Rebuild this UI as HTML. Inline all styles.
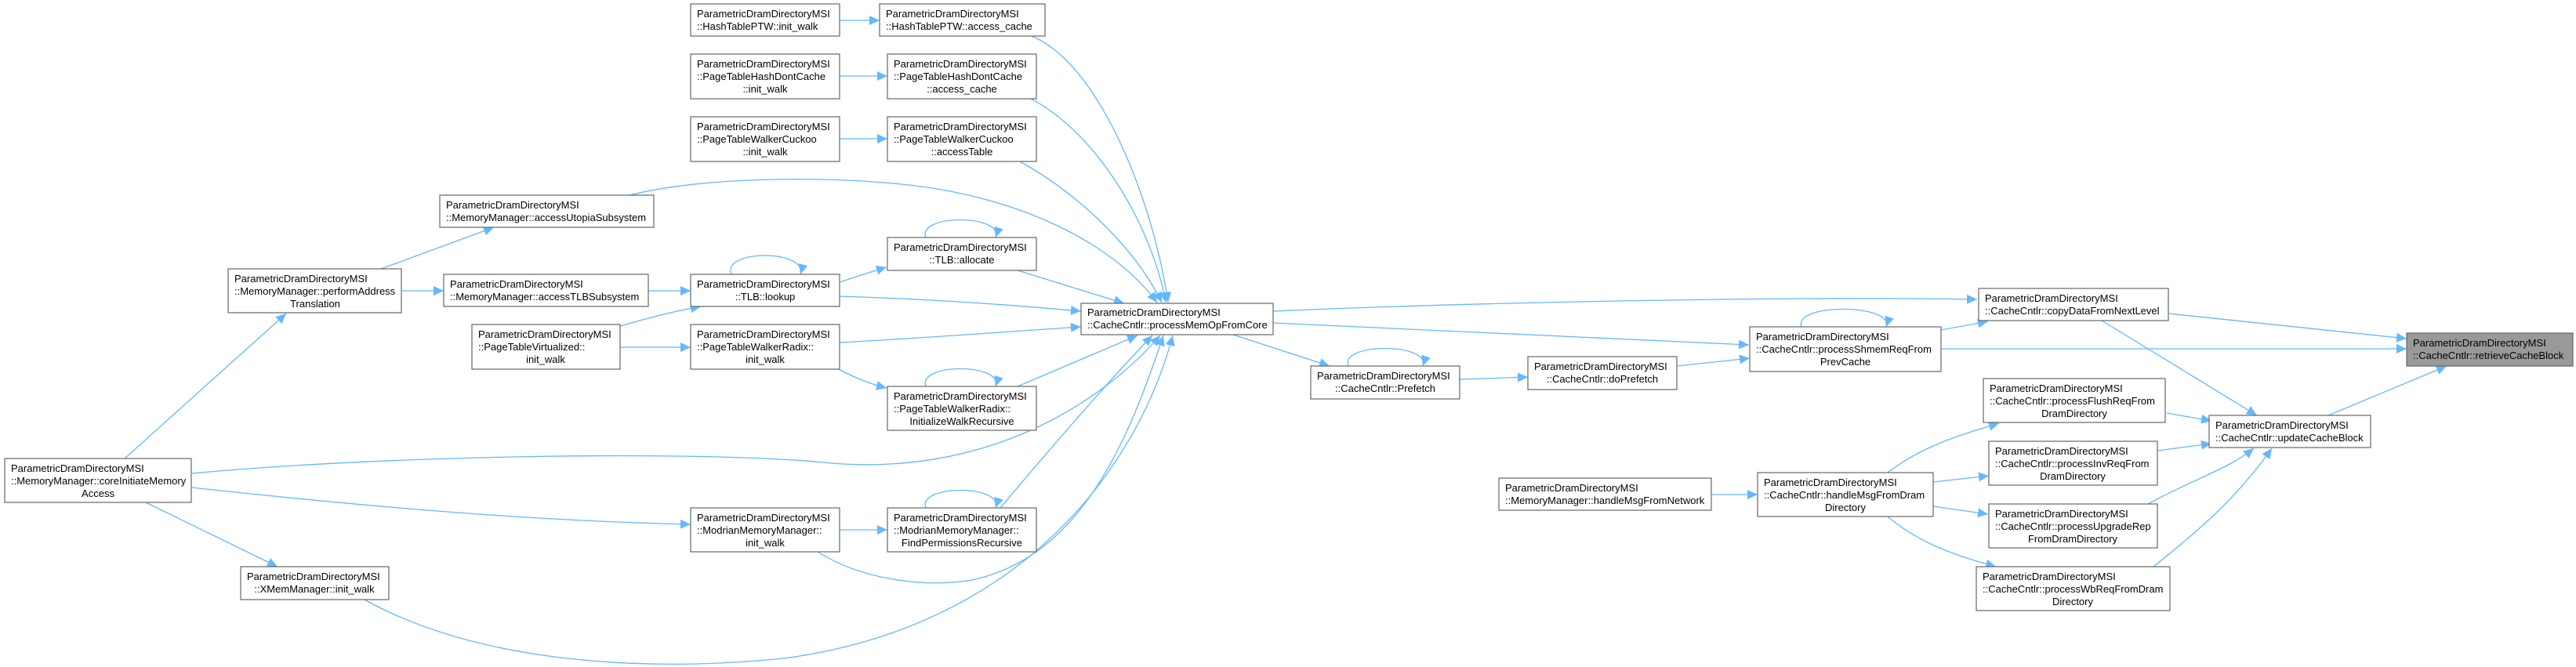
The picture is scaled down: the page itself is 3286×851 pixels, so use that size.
<!DOCTYPE html>
<html><head><meta charset="utf-8"><style>
html,body{margin:0;padding:0;background:#fff;}
svg{display:block;}
text{font-family:"Liberation Sans",sans-serif;font-size:13px;fill:#000;}
.n{fill:#fff;stroke:#666;stroke-width:1.2;}
.h{fill:#999;stroke:#666;stroke-width:1.2;}
.e{fill:none;stroke:#63b8ff;stroke-width:1.3;marker-end:url(#a);}
</style></head><body>
<svg width="3286" height="851" viewBox="0 0 3286 851" xmlns="http://www.w3.org/2000/svg">
<defs><marker id="a" markerUnits="userSpaceOnUse" markerWidth="14" markerHeight="12" refX="13" refY="6" orient="auto"><path d="M0,0 L13,6 L0,12 z" fill="#63b8ff"/></marker></defs>

<!-- edges -->
<path class="e" d="M1071,26 L1122,26"/>
<path class="e" d="M1071,97 L1132,97"/>
<path class="e" d="M1071,177 L1132,177"/>
<path class="e" d="M1316,46 C1400,80 1470,250 1490,386"/>
<path class="e" d="M1315,126 C1400,170 1470,290 1487,386"/>
<path class="e" d="M1301,206 C1380,250 1450,320 1482,386"/>
<path class="e" d="M803,249 C900,225 1050,225 1150,235 C1300,250 1420,310 1476,386"/>
<path class="e" d="M486,343 L630,290"/>
<path class="e" d="M512,371 L566,371"/>
<path class="e" d="M827,371 L881,371"/>
<path class="e" d="M933,350 C920,318 1030,318 1021,350"/>
<path class="e" d="M1071,360 C1095,352 1110,347 1131,341"/>
<path class="e" d="M1071,378 C1200,382 1300,390 1379,397"/>
<path class="e" d="M1181,303 C1170,273 1280,273 1270,303"/>
<path class="e" d="M1298,345 L1434,387"/>
<path class="e" d="M791,416 C830,405 860,397 894,391"/>
<path class="e" d="M791,443 L881,443"/>
<path class="e" d="M1071,437 C1200,430 1300,422 1379,417"/>
<path class="e" d="M1068,470 C1090,482 1110,490 1131,495"/>
<path class="e" d="M1181,493 C1170,463 1280,463 1270,493"/>
<path class="e" d="M1298,493 L1451,428"/>
<path class="e" d="M159,585 L365,400"/>
<path class="e" d="M245,604 C500,580 900,575 1050,590 C1250,610 1400,520 1480,428"/>
<path class="e" d="M245,622 C500,650 700,665 881,669"/>
<path class="e" d="M186,641 L354,723"/>
<path class="e" d="M1071,676 L1132,676"/>
<path class="e" d="M1043,704 C1100,740 1180,750 1240,740 C1380,710 1440,560 1484,428"/>
<path class="e" d="M1181,648 C1170,618 1280,618 1270,648"/>
<path class="e" d="M1276,648 C1350,560 1420,480 1470,428"/>
<path class="e" d="M465,765 C600,840 800,860 1000,840 C1300,800 1450,600 1496,428"/>
<path class="e" d="M1573,427 L1696,467"/>
<path class="e" d="M1624,397 C1900,385 2300,378 2522,382"/>
<path class="e" d="M1624,412 C1900,425 2100,435 2231,440"/>
<path class="e" d="M1720,467 C1708,437 1825,437 1815,467"/>
<path class="e" d="M1862,484 L1949,481"/>
<path class="e" d="M2139,467 L2232,457"/>
<path class="e" d="M2298,417 C2286,387 2416,387 2406,417"/>
<path class="e" d="M2476,421 L2536,410"/>
<path class="e" d="M2476,445 L3070,445"/>
<path class="e" d="M2766,400 L3070,432"/>
<path class="e" d="M2681,409 L2879,530"/>
<path class="e" d="M2970,530 L3121,467"/>
<path class="e" d="M2183,631 L2242,631"/>
<path class="e" d="M2408,603 C2450,570 2500,555 2550,540"/>
<path class="e" d="M2466,615 L2537,607"/>
<path class="e" d="M2466,646 L2536,656"/>
<path class="e" d="M2408,659 C2450,695 2500,710 2546,723"/>
<path class="e" d="M2764,527 L2821,537"/>
<path class="e" d="M2752,575 L2821,566"/>
<path class="e" d="M2740,643 C2800,610 2840,600 2875,572"/>
<path class="e" d="M2747,723 C2800,680 2850,640 2898,572"/>

<!-- nodes -->
<rect class="n" x="881" y="5" width="190" height="41"/>
<text x="889" y="22">ParametricDramDirectoryMSI</text><text x="889" y="38">::HashTablePTW::init_walk</text>

<rect class="n" x="881" y="69" width="190" height="57"/>
<text x="889" y="86">ParametricDramDirectoryMSI</text><text x="889" y="102">::PageTableHashDontCache</text><text x="976" y="118" text-anchor="middle">::init_walk</text>

<rect class="n" x="881" y="149" width="190" height="57"/>
<text x="889" y="166">ParametricDramDirectoryMSI</text><text x="889" y="182">::PageTableWalkerCuckoo</text><text x="976" y="198" text-anchor="middle">::init_walk</text>

<rect class="n" x="1122" y="5" width="211" height="41"/>
<text x="1130" y="22">ParametricDramDirectoryMSI</text><text x="1130" y="38">::HashTablePTW::access_cache</text>

<rect class="n" x="1132" y="69" width="190" height="57"/>
<text x="1140" y="86">ParametricDramDirectoryMSI</text><text x="1140" y="102">::PageTableHashDontCache</text><text x="1227" y="118" text-anchor="middle">::access_cache</text>

<rect class="n" x="1132" y="149" width="190" height="57"/>
<text x="1140" y="166">ParametricDramDirectoryMSI</text><text x="1140" y="182">::PageTableWalkerCuckoo</text><text x="1227" y="198" text-anchor="middle">::accessTable</text>

<rect class="n" x="561" y="249" width="273" height="41"/>
<text x="569" y="266">ParametricDramDirectoryMSI</text><text x="569" y="282">::MemoryManager::accessUtopiaSubsystem</text>

<rect class="n" x="291" y="343" width="221" height="56"/>
<text x="299" y="360">ParametricDramDirectoryMSI</text><text x="299" y="376">::MemoryManager::performAddress</text><text x="402" y="392" text-anchor="middle">Translation</text>

<rect class="n" x="566" y="350" width="261" height="41"/>
<text x="574" y="367">ParametricDramDirectoryMSI</text><text x="574" y="383">::MemoryManager::accessTLBSubsystem</text>

<rect class="n" x="881" y="350" width="190" height="41"/>
<text x="889" y="367">ParametricDramDirectoryMSI</text><text x="976" y="383" text-anchor="middle">::TLB::lookup</text>

<rect class="n" x="1132" y="303" width="190" height="42"/>
<text x="1140" y="320">ParametricDramDirectoryMSI</text><text x="1227" y="336" text-anchor="middle">::TLB::allocate</text>

<rect class="n" x="602" y="414" width="189" height="57"/>
<text x="610" y="431">ParametricDramDirectoryMSI</text><text x="610" y="447">::PageTableVirtualized::</text><text x="696" y="463" text-anchor="middle">init_walk</text>

<rect class="n" x="881" y="414" width="190" height="57"/>
<text x="889" y="431">ParametricDramDirectoryMSI</text><text x="889" y="447">::PageTableWalkerRadix::</text><text x="976" y="463" text-anchor="middle">init_walk</text>

<rect class="n" x="1132" y="493" width="190" height="56"/>
<text x="1140" y="510">ParametricDramDirectoryMSI</text><text x="1140" y="526">::PageTableWalkerRadix::</text><text x="1227" y="542" text-anchor="middle">InitializeWalkRecursive</text>

<rect class="n" x="1379" y="387" width="245" height="40"/>
<text x="1387" y="403">ParametricDramDirectoryMSI</text><text x="1387" y="419">::CacheCntlr::processMemOpFromCore</text>

<rect class="n" x="6" y="585" width="238" height="56"/>
<text x="14" y="602">ParametricDramDirectoryMSI</text><text x="14" y="618">::MemoryManager::coreInitiateMemory</text><text x="125" y="634" text-anchor="middle">Access</text>

<rect class="n" x="881" y="648" width="190" height="56"/>
<text x="889" y="665">ParametricDramDirectoryMSI</text><text x="889" y="681">::ModrianMemoryManager::</text><text x="976" y="697" text-anchor="middle">init_walk</text>

<rect class="n" x="1132" y="648" width="190" height="56"/>
<text x="1140" y="665">ParametricDramDirectoryMSI</text><text x="1140" y="681">::ModrianMemoryManager::</text><text x="1227" y="697" text-anchor="middle">FindPermissionsRecursive</text>

<rect class="n" x="307" y="723" width="189" height="42"/>
<text x="315" y="740">ParametricDramDirectoryMSI</text><text x="401" y="756" text-anchor="middle">::XMemManager::init_walk</text>

<rect class="n" x="1672" y="467" width="190" height="42"/>
<text x="1680" y="484">ParametricDramDirectoryMSI</text><text x="1767" y="500" text-anchor="middle">::CacheCntlr::Prefetch</text>

<rect class="n" x="1949" y="455" width="190" height="42"/>
<text x="1957" y="472">ParametricDramDirectoryMSI</text><text x="2044" y="488" text-anchor="middle">::CacheCntlr::doPrefetch</text>

<rect class="n" x="1912" y="610" width="271" height="41"/>
<text x="1920" y="627">ParametricDramDirectoryMSI</text><text x="1920" y="643">::MemoryManager::handleMsgFromNetwork</text>

<rect class="n" x="2232" y="417" width="244" height="57"/>
<text x="2240" y="434">ParametricDramDirectoryMSI</text><text x="2240" y="450">::CacheCntlr::processShmemReqFrom</text><text x="2354" y="466" text-anchor="middle">PrevCache</text>

<rect class="n" x="2524" y="368" width="242" height="41"/>
<text x="2532" y="385">ParametricDramDirectoryMSI</text><text x="2532" y="401">::CacheCntlr::copyDataFromNextLevel</text>

<rect class="h" x="3070" y="425" width="212" height="42"/>
<text x="3078" y="442">ParametricDramDirectoryMSI</text><text x="3078" y="458">::CacheCntlr::retrieveCacheBlock</text>

<rect class="n" x="2242" y="603" width="224" height="56"/>
<text x="2250" y="620">ParametricDramDirectoryMSI</text><text x="2250" y="636">::CacheCntlr::handleMsgFromDram</text><text x="2354" y="652" text-anchor="middle">Directory</text>

<rect class="n" x="2530" y="483" width="232" height="56"/>
<text x="2538" y="500">ParametricDramDirectoryMSI</text><text x="2538" y="516">::CacheCntlr::processFlushReqFrom</text><text x="2646" y="532" text-anchor="middle">DramDirectory</text>

<rect class="n" x="2537" y="563" width="215" height="56"/>
<text x="2545" y="580">ParametricDramDirectoryMSI</text><text x="2545" y="596">::CacheCntlr::processInvReqFrom</text><text x="2644" y="612" text-anchor="middle">DramDirectory</text>

<rect class="n" x="2537" y="643" width="215" height="56"/>
<text x="2545" y="660">ParametricDramDirectoryMSI</text><text x="2545" y="676">::CacheCntlr::processUpgradeRep</text><text x="2644" y="692" text-anchor="middle">FromDramDirectory</text>

<rect class="n" x="2521" y="723" width="247" height="56"/>
<text x="2529" y="740">ParametricDramDirectoryMSI</text><text x="2529" y="756">::CacheCntlr::processWbReqFromDram</text><text x="2644" y="772" text-anchor="middle">Directory</text>

<rect class="n" x="2818" y="530" width="206" height="41"/>
<text x="2826" y="547">ParametricDramDirectoryMSI</text><text x="2826" y="563">::CacheCntlr::updateCacheBlock</text>
</svg>
</body></html>
